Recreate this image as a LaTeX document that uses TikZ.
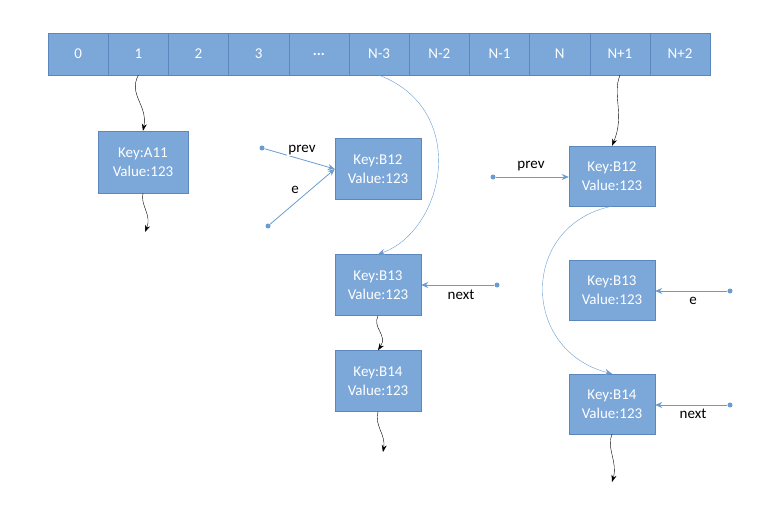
\documentclass[tikz,border=0pt]{standalone}
\usepackage{fontspec}
\setmainfont{Carlito}
\usetikzlibrary{arrows.meta}
\definecolor{boxfill}{HTML}{7BA7D9}
\definecolor{boxline}{HTML}{5B87BE}
\definecolor{ptr}{HTML}{6A9BD1}
\begin{document}
\begin{tikzpicture}[x=1pt,y=-1pt,
  cell/.style={draw=boxline,fill=boxfill,minimum width=60.2pt,minimum height=42pt,inner sep=0pt,text=white,font=\fontsize{15}{16}\selectfont},
  entry/.style={draw=boxline,fill=boxfill,minimum width=86pt,minimum height=61pt,inner sep=0pt,text=white,align=center,font=\fontsize{15}{19}\selectfont},
  link/.style={black,-{Stealth[length=7pt,width=5pt]}},
  ptrl/.style={ptr,thick,-{Stealth[length=7pt,width=6pt]}},
  dot/.style={circle,fill=ptr,inner sep=0pt,minimum size=5pt},
  lbl/.style={fill=white,inner sep=1pt,font=\fontsize{15}{16}\selectfont}]
\useasboundingbox (0,0) rectangle (776,532);
% array
\foreach \t [count=\i from 0] in {0,1,2,3,\textbf{...},N-3,N-2,N-1,N,N+1,N+2}
  \node[cell] (c\i) at ({78.1+60.2*\i},54) {\t};
% entries
\node[entry,minimum width=90pt,minimum height=62pt] (a11) at (143,162) {Key:A11\\Value:123};
\node[entry] (b12) at (378,169) {Key:B12\\Value:123};
\node[entry] (b13) at (378,285) {Key:B13\\Value:123};
\node[entry] (b14) at (378,381) {Key:B14\\Value:123};
\node[entry,minimum height=60pt] (rb12) at (612,176) {Key:B12\\Value:123};
\node[entry,minimum height=60pt] (rb13) at (612,290) {Key:B13\\Value:123};
\node[entry,minimum height=60pt] (rb14) at (612,404) {Key:B14\\Value:123};
% free ends
\coordinate (ea) at (145,232);
\coordinate (eb) at (383,452);
\coordinate (ec) at (612,482);
% black chains
\draw[link] (c1.south) .. controls (128,95) and (148,105) .. (a11.north);
\draw[link] (a11.south) .. controls (140,205) and (152,215) .. (ea);
\draw[link] (b13.south) .. controls (372,328) and (388,335) .. (b14.north);
\draw[link] (b14.south) .. controls (374,425) and (386,435) .. (eb);
\draw[link] (c9.south) .. controls (612,95) and (625,115) .. (rb12.north);
\draw[link] (rb14.south) .. controls (606,448) and (618,462) .. (ec);
% blue arcs
\draw[ptr,-{Stealth[length=7pt,width=6pt]}] (c5.south) .. controls (470,110) and (445,230) .. (b13.north);
\draw[ptr,-{Stealth[length=7pt,width=6pt]}] (rb12.south) .. controls (520,225) and (520,350) .. (rb14.north);
% pointers
\node[dot] (p1) at (262,148) {};
\node[dot] (p2) at (268,226) {};
\node[dot] (p3) at (497,285) {};
\node[dot] (p4) at (493,177) {};
\node[dot] (p5) at (730,291) {};
\node[dot] (p6) at (730,405) {};
\draw[ptrl] (p1) -- (b12.west);
\draw[ptrl] (p2) -- (b12.west);
\draw[ptrl] (p3) -- (b13.east);
\draw[ptrl] (p4) -- (rb12.west |- p4);
\draw[ptrl] (p5) -- (rb13.east |- p5);
\draw[ptrl] (p6) -- (rb14.east |- p6);
\node[lbl] (l1) at (302,150) {prev};
\node[lbl] (l2) at (295,190) {e};
\node[lbl] (l3) at (461,295) {next};
\node[lbl] (l4) at (531,166) {prev};
\node[lbl] (l5) at (693,301) {e};
\node[lbl] (l6) at (693,414) {next};
\end{tikzpicture}
\end{document}
